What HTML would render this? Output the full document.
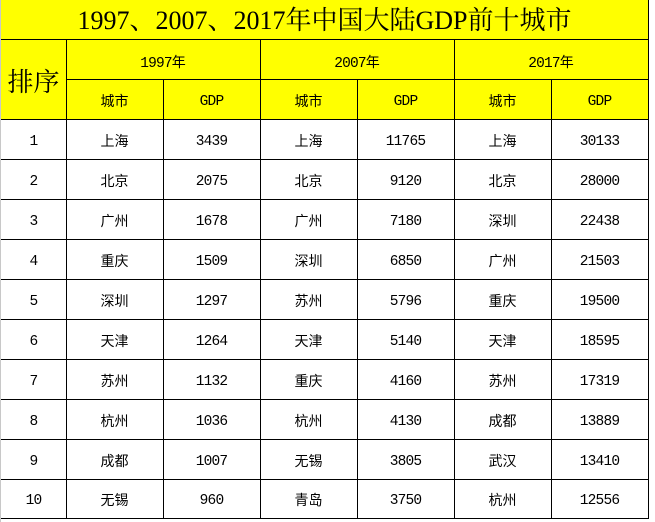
<!DOCTYPE html>
<html><head><meta charset="utf-8">
<style>
html,body{margin:0;padding:0;background:#fff;}
#w{position:relative;width:655px;height:522px;overflow:hidden;background:#fff;}
.y{position:absolute;background:#ffff00;}
.h{position:absolute;height:1px;background:#000;}
.v{position:absolute;width:1px;background:#000;}
.c{position:absolute;height:40px;line-height:40px;text-align:center;white-space:nowrap;color:#000;padding-top:2px;
 font-family:"Liberation Mono","Noto Sans CJK SC",monospace;font-size:14.5px;letter-spacing:-0.8px;}
.z{font-family:"Noto Sans CJK SC","WenQuanYi Zen Hei",sans-serif;font-size:14px;letter-spacing:0;}
.c.z{padding-top:1px;}
.t{position:absolute;left:1px;width:647px;top:1px;height:39px;line-height:39px;text-align:center;
 font-family:"Liberation Serif","Noto Serif CJK SC",serif;font-size:26px;color:#000;white-space:nowrap;}
.p{position:absolute;left:1px;width:65px;top:41px;height:80px;line-height:80px;text-align:center;
 font-family:"Noto Serif CJK SC","Noto Sans CJK SC",serif;font-size:26px;color:#000;}
</style></head><body><div id="w">
<div class="y" style="left:1px;top:0;width:648px;height:119px"></div>
<div style="position:absolute;left:0;top:0;width:1px;height:522px;background:#c8c8c8"></div>

<div class="t">1997、2007、2017年中国大陆GDP前十城市</div>
<div class="p">排序</div>

<div class="c" style="left:66px;width:194px;top:40px">1997<span class="z">年</span></div>
<div class="c" style="left:260px;width:194px;top:40px">2007<span class="z">年</span></div>
<div class="c" style="left:454px;width:194px;top:40px">2017<span class="z">年</span></div>

<div class="c z" style="left:66px;width:97px;top:80px">城市</div>
<div class="c" style="left:163px;width:97px;top:80px">GDP</div>
<div class="c z" style="left:260px;width:97px;top:80px">城市</div>
<div class="c" style="left:357px;width:97px;top:80px">GDP</div>
<div class="c z" style="left:454px;width:97px;top:80px">城市</div>
<div class="c" style="left:551px;width:97px;top:80px">GDP</div>

<!-- rows -->
<div class="c" style="left:1px;width:65px;top:120px">1</div>
<div class="c z" style="left:66px;width:97px;top:120px">上海</div>
<div class="c" style="left:163px;width:97px;top:120px">3439</div>
<div class="c z" style="left:260px;width:97px;top:120px">上海</div>
<div class="c" style="left:357px;width:97px;top:120px">11765</div>
<div class="c z" style="left:454px;width:97px;top:120px">上海</div>
<div class="c" style="left:551px;width:97px;top:120px">30133</div>

<div class="c" style="left:1px;width:65px;top:160px">2</div>
<div class="c z" style="left:66px;width:97px;top:160px">北京</div>
<div class="c" style="left:163px;width:97px;top:160px">2075</div>
<div class="c z" style="left:260px;width:97px;top:160px">北京</div>
<div class="c" style="left:357px;width:97px;top:160px">9120</div>
<div class="c z" style="left:454px;width:97px;top:160px">北京</div>
<div class="c" style="left:551px;width:97px;top:160px">28000</div>

<div class="c" style="left:1px;width:65px;top:200px">3</div>
<div class="c z" style="left:66px;width:97px;top:200px">广州</div>
<div class="c" style="left:163px;width:97px;top:200px">1678</div>
<div class="c z" style="left:260px;width:97px;top:200px">广州</div>
<div class="c" style="left:357px;width:97px;top:200px">7180</div>
<div class="c z" style="left:454px;width:97px;top:200px">深圳</div>
<div class="c" style="left:551px;width:97px;top:200px">22438</div>

<div class="c" style="left:1px;width:65px;top:240px">4</div>
<div class="c z" style="left:66px;width:97px;top:240px">重庆</div>
<div class="c" style="left:163px;width:97px;top:240px">1509</div>
<div class="c z" style="left:260px;width:97px;top:240px">深圳</div>
<div class="c" style="left:357px;width:97px;top:240px">6850</div>
<div class="c z" style="left:454px;width:97px;top:240px">广州</div>
<div class="c" style="left:551px;width:97px;top:240px">21503</div>

<div class="c" style="left:1px;width:65px;top:280px">5</div>
<div class="c z" style="left:66px;width:97px;top:280px">深圳</div>
<div class="c" style="left:163px;width:97px;top:280px">1297</div>
<div class="c z" style="left:260px;width:97px;top:280px">苏州</div>
<div class="c" style="left:357px;width:97px;top:280px">5796</div>
<div class="c z" style="left:454px;width:97px;top:280px">重庆</div>
<div class="c" style="left:551px;width:97px;top:280px">19500</div>

<div class="c" style="left:1px;width:65px;top:320px">6</div>
<div class="c z" style="left:66px;width:97px;top:320px">天津</div>
<div class="c" style="left:163px;width:97px;top:320px">1264</div>
<div class="c z" style="left:260px;width:97px;top:320px">天津</div>
<div class="c" style="left:357px;width:97px;top:320px">5140</div>
<div class="c z" style="left:454px;width:97px;top:320px">天津</div>
<div class="c" style="left:551px;width:97px;top:320px">18595</div>

<div class="c" style="left:1px;width:65px;top:360px">7</div>
<div class="c z" style="left:66px;width:97px;top:360px">苏州</div>
<div class="c" style="left:163px;width:97px;top:360px">1132</div>
<div class="c z" style="left:260px;width:97px;top:360px">重庆</div>
<div class="c" style="left:357px;width:97px;top:360px">4160</div>
<div class="c z" style="left:454px;width:97px;top:360px">苏州</div>
<div class="c" style="left:551px;width:97px;top:360px">17319</div>

<div class="c" style="left:1px;width:65px;top:400px">8</div>
<div class="c z" style="left:66px;width:97px;top:400px">杭州</div>
<div class="c" style="left:163px;width:97px;top:400px">1036</div>
<div class="c z" style="left:260px;width:97px;top:400px">杭州</div>
<div class="c" style="left:357px;width:97px;top:400px">4130</div>
<div class="c z" style="left:454px;width:97px;top:400px">成都</div>
<div class="c" style="left:551px;width:97px;top:400px">13889</div>

<div class="c" style="left:1px;width:65px;top:440px">9</div>
<div class="c z" style="left:66px;width:97px;top:440px">成都</div>
<div class="c" style="left:163px;width:97px;top:440px">1007</div>
<div class="c z" style="left:260px;width:97px;top:440px">无锡</div>
<div class="c" style="left:357px;width:97px;top:440px">3805</div>
<div class="c z" style="left:454px;width:97px;top:440px">武汉</div>
<div class="c" style="left:551px;width:97px;top:440px">13410</div>

<div class="c" style="left:1px;width:65px;top:479px">10</div>
<div class="c z" style="left:66px;width:97px;top:479px">无锡</div>
<div class="c" style="left:163px;width:97px;top:479px">960</div>
<div class="c z" style="left:260px;width:97px;top:479px">青岛</div>
<div class="c" style="left:357px;width:97px;top:479px">3750</div>
<div class="c z" style="left:454px;width:97px;top:479px">杭州</div>
<div class="c" style="left:551px;width:97px;top:479px">12556</div>

<!-- horizontal lines -->
<div class="h" style="left:1px;width:648px;top:39px"></div>
<div class="h" style="left:66px;width:583px;top:79px"></div>
<div class="h" style="left:1px;width:648px;top:119px"></div>
<div class="h" style="left:1px;width:648px;top:159px"></div>
<div class="h" style="left:1px;width:648px;top:199px"></div>
<div class="h" style="left:1px;width:648px;top:239px"></div>
<div class="h" style="left:1px;width:648px;top:279px"></div>
<div class="h" style="left:1px;width:648px;top:319px"></div>
<div class="h" style="left:1px;width:648px;top:359px"></div>
<div class="h" style="left:1px;width:648px;top:399px"></div>
<div class="h" style="left:1px;width:648px;top:439px"></div>
<div class="h" style="left:1px;width:648px;top:479px"></div>
<div class="h" style="left:1px;width:648px;top:518px"></div>

<!-- vertical lines -->
<div class="v" style="left:66px;top:39px;height:480px"></div>
<div class="v" style="left:163px;top:79px;height:440px"></div>
<div class="v" style="left:260px;top:39px;height:480px"></div>
<div class="v" style="left:357px;top:79px;height:440px"></div>
<div class="v" style="left:454px;top:39px;height:480px"></div>
<div class="v" style="left:551px;top:79px;height:440px"></div>
<div class="v" style="left:648px;top:0px;height:519px"></div>
</div></body></html>
